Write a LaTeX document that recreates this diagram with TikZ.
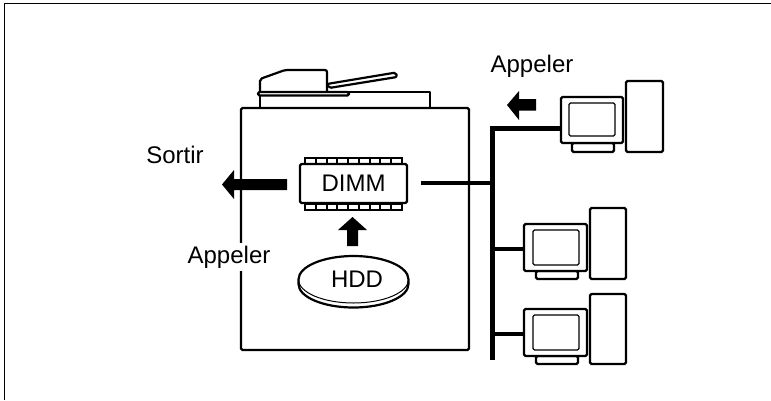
\documentclass[tikz,border=0pt]{standalone}
\usepackage{fontspec}
\setmainfont{Liberation Sans}
\begin{document}
\begin{tikzpicture}[x=1pt,y=-1pt,
  boxed/.style={draw=black,fill=white,line width=2.2pt,rounded corners=1.5pt,inner sep=0pt,outer sep=0pt},
  thin box/.style={draw=black,fill=white,line width=1.2pt,rounded corners=1.5pt,inner sep=0pt,outer sep=0pt},
  outline/.style={draw=black,line width=2.2pt,line join=round},
  net/.style={draw=black,line width=4.5pt},
  bigarrow/.style={fill=black,draw=none},
  label/.style={font=\fontsize{24}{24}\selectfont,inner sep=0pt,text=black}]
\useasboundingbox (0,0) rectangle (771,400);
\draw[black,line width=1.3pt] (4.5,400) -- (4.5,3.5) -- (771,3.5);
% scanner
\draw[outline,fill=white] (260,92) -- (430,92) -- (430,108) -- (260,108) -- cycle;
\draw[outline,fill=white,rounded corners=2pt] (327,84) -- (396,72.5) -- (397,77) -- (329,88) -- cycle;
\draw[outline,fill=white,rounded corners=2pt] (260,92) -- (260,79) -- (285,70) -- (327,70) -- (327,92);
\draw[outline,fill=white,rounded corners=1.5pt] (258,92) -- (349,92) -- (349,95.5) -- (258,95.5) -- cycle;
% body
\node[boxed,minimum width=228,minimum height=242] (body) at (355,229) {};
% arrows
\path[bigarrow] (287,179) -- (234,179) -- (234,170) -- (222,184.5) -- (234,199) -- (234,190) -- (287,190) -- cycle;
\path[bigarrow] (347,246) -- (347,230) -- (338,230) -- (352.5,217) -- (367,230) -- (358,230) -- (358,246) -- cycle;
\path[bigarrow] (536,99) -- (519,99) -- (519,91) -- (507,105) -- (519,120) -- (519,110.5) -- (536,110.5) -- cycle;
% DIMM
\foreach \yy in {161,206.5}{
  \draw[black,line width=2pt,fill=white] (305,\yy-3) rectangle (402,\yy+3);
  \foreach \k in {1,...,8}{\draw[black,line width=2pt] (305+\k*10.78,\yy-3) -- (305+\k*10.78,\yy+3);}
}
\node[boxed,minimum width=107,minimum height=39] (dimm) at (353.5,183.5) {\fontsize{24}{24}\selectfont DIMM};
% HDD
\draw[black,line width=2.2pt,fill=white] (298.5,279.5) -- (298.5,284) arc[x radius=55,y radius=23.5,start angle=180,end angle=0] -- (408.5,279.5) arc[x radius=55,y radius=23.5,start angle=0,end angle=-180] -- cycle;
\draw[black,line width=1pt] (298.5,279.5) arc[x radius=55,y radius=23.5,start angle=180,end angle=0];
\node[inner sep=0pt,font=\fontsize{24}{24}\selectfont] (hdd) at (357,279) {HDD};
% computers
\node[boxed,minimum width=37,minimum height=71] (t1) at (644.5,116.5) {};
\node[boxed,minimum width=42,minimum height=9] (s1) at (593,147.5) {};
\node[boxed,minimum width=62,minimum height=46] (m1) at (592,120) {};
\node[thin box,minimum width=46,minimum height=33] (w1) at (592,119.5) {};
\node[boxed,minimum width=36,minimum height=71] (t2) at (608,243.5) {};
\node[boxed,minimum width=42,minimum height=8] (s2) at (557,275) {};
\node[boxed,minimum width=63,minimum height=47] (m2) at (555.5,247.5) {};
\node[thin box,minimum width=46,minimum height=35] (w2) at (556,247.5) {};
\node[boxed,minimum width=36,minimum height=70] (t3) at (608,329) {};
\node[boxed,minimum width=42,minimum height=8] (s3) at (557,360) {};
\node[boxed,minimum width=63,minimum height=47] (m3) at (555.5,332.5) {};
\node[thin box,minimum width=46,minimum height=35] (w3) at (556,332.5) {};
% network
\coordinate (bustop) at (492,126.2);
\coordinate (busbot) at (492,360);
\coordinate (dimmout) at (421,183);
\coordinate (j1) at (492,128.5);
\coordinate (j2) at (492,249);
\coordinate (j3) at (492,334);
\draw[net,line width=5pt] (bustop) -- (busbot);
\draw[net] (j1) -- (j1 -| m1.west);
\draw[net] (dimmout) -- (dimmout -| bustop);
\draw[net] (j2) -- (j2 -| m2.west);
\draw[net] (j3) -- (j3 -| m3.west);
% labels
\node[label] (a1) at (532,66) {Appeler};
\node[label] (so) at (175,155) {Sortir};
\node[label,fill=white,inner ysep=3pt,inner xsep=1pt] (a2) at (229,257) {Appeler};
\end{tikzpicture}
\end{document}
